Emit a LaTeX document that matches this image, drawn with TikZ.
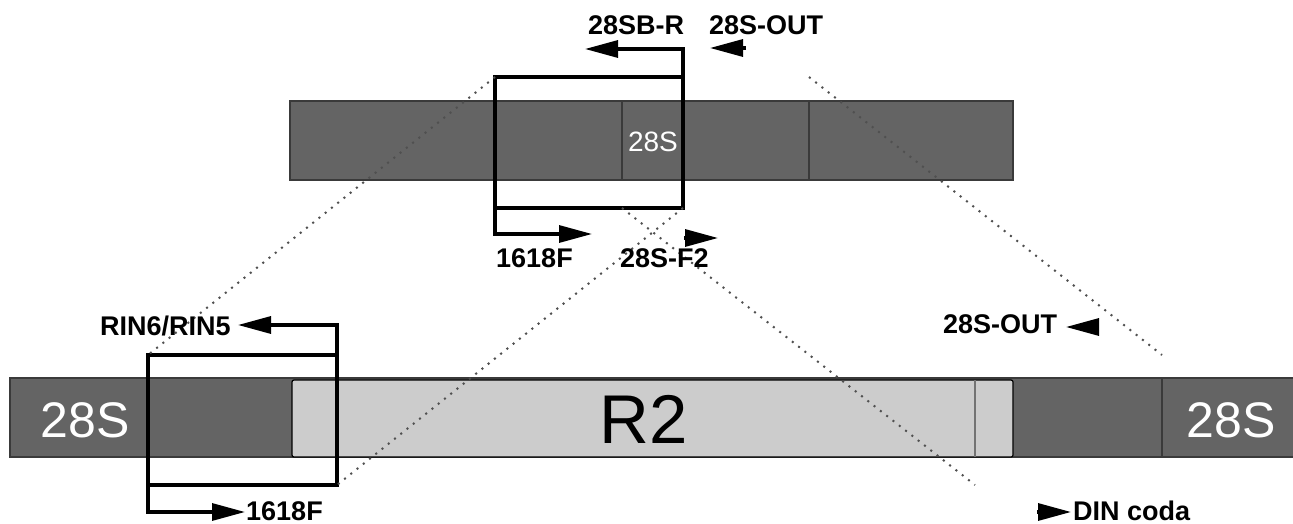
\documentclass[tikz,border=0pt]{standalone}
\usepackage{fontspec}
\setmainfont{Liberation Sans}
\definecolor{segdark}{RGB}{100,100,100}
\definecolor{seglight}{RGB}{204,204,204}
\definecolor{segedge}{RGB}{58,58,58}
\definecolor{guide}{RGB}{80,80,80}
\usetikzlibrary{arrows.meta,calc}

\begin{document}
\begin{tikzpicture}[x=1pt, y=-1pt,
    primer/.style={line width=3.2pt, -{Triangle[length=33pt,width=17pt]}},
    frame/.style={line width=3.4pt},
    segline/.style={segedge, line width=2pt},
    guideline/.style={guide, line width=2pt, dash pattern=on 2pt off 6pt},
    lbl/.style={font=\fontsize{27}{27}\selectfont\bfseries, inner sep=0pt},
    seglbl/.style={text=white, inner sep=0pt}]
  \useasboundingbox (0,0) rectangle (1293,524);
  % upper copy of the 28S gene
  \draw[segline, fill=segdark] (290,101) rectangle (1013,180);
  \draw[segline] (622,101) -- (622,180);
  \draw[segline] (809,101) -- (809,180);
  \node[seglbl, font=\fontsize{28}{28}\selectfont, anchor=base] (upS) at (653,152) {28S};
  % 28S with the R2 insertion
  \draw[segline, fill=segdark] (10,378) rectangle (1310,457);
  \draw[black, line width=1.2pt, fill=seglight, rounded corners=2pt] (292,380) rectangle (1013,457);
  \draw[guide!80, line width=2pt] (975,380) -- (975,457);
  \draw[segline] (1162,378) -- (1162,457);
  \node[seglbl, font=\fontsize{50}{50}\selectfont, anchor=base] (lowSa) at (85,437) {28S};
  \node[seglbl, font=\fontsize{50}{50}\selectfont, anchor=base] (lowSb) at (1231,437) {28S};
  \node[inner sep=0pt, font=\fontsize{69}{69}\selectfont, anchor=base] (rtwo) at (644,443) {R2};
  % amplified regions
  \coordinate (upNW) at (495,77);
  \coordinate (upSE) at (683,208);
  \coordinate (lowNW) at (148,355);
  \coordinate (lowSE) at (337,485);
  \draw[frame] (upNW) rectangle (upSE);
  \draw[frame] (lowNW) rectangle (lowSE);
  \coordinate (upCutA) at (622,208);
  \coordinate (upCutB) at (809,77);
  \coordinate (lowCutA) at (975,485);
  \coordinate (lowCutB) at (1162,355);
  \draw[guideline] (upNW) -- (lowNW);
  \draw[guideline] (upSE) -- (lowSE);
  \draw[guideline] (upCutA) -- (lowCutA);
  \draw[guideline] (upCutB) -- (lowCutB);
  % primers
  \node[lbl, anchor=base west] (sbr) at (588,35) {28SB-R};
  \node[lbl, anchor=base west] (outa) at (709,35) {28S-OUT};
  \node[lbl, anchor=base west] (fwda) at (496,267) {1618F};
  \node[lbl, anchor=base west] (ftwo) at (620,267) {28S-F2};
  \node[lbl, anchor=base west] (rin) at (100,335) {RIN6/RIN5};
  \node[lbl, anchor=base west] (fwdb) at (246,520) {1618F};
  \node[lbl, anchor=base west] (outb) at (943,333) {28S-OUT};
  \node[lbl, anchor=base west] (din) at (1073,520) {DIN coda};
  \coordinate (sbrTip) at (585,49);
  \coordinate (fwdaTip) at (592,234);
  \coordinate (rinTip) at (238,325);
  \coordinate (fwdbTip) at (245,512);
  \draw[primer] (upSE |- upNW) |- (sbrTip);
  \draw[primer] (upNW |- upSE) |- (fwdaTip);
  \draw[primer] (lowSE |- lowNW) |- (rinTip);
  \draw[primer] (lowNW |- lowSE) |- (fwdbTip);
  \draw[primer] (746,48) -- (710,48);
  \draw[primer] (684,238) -- (718,238);
  \draw[primer] (1097,327) -- (1066,327);
  \draw[primer] (1037,512) -- (1071,512);
\end{tikzpicture}
\end{document}
